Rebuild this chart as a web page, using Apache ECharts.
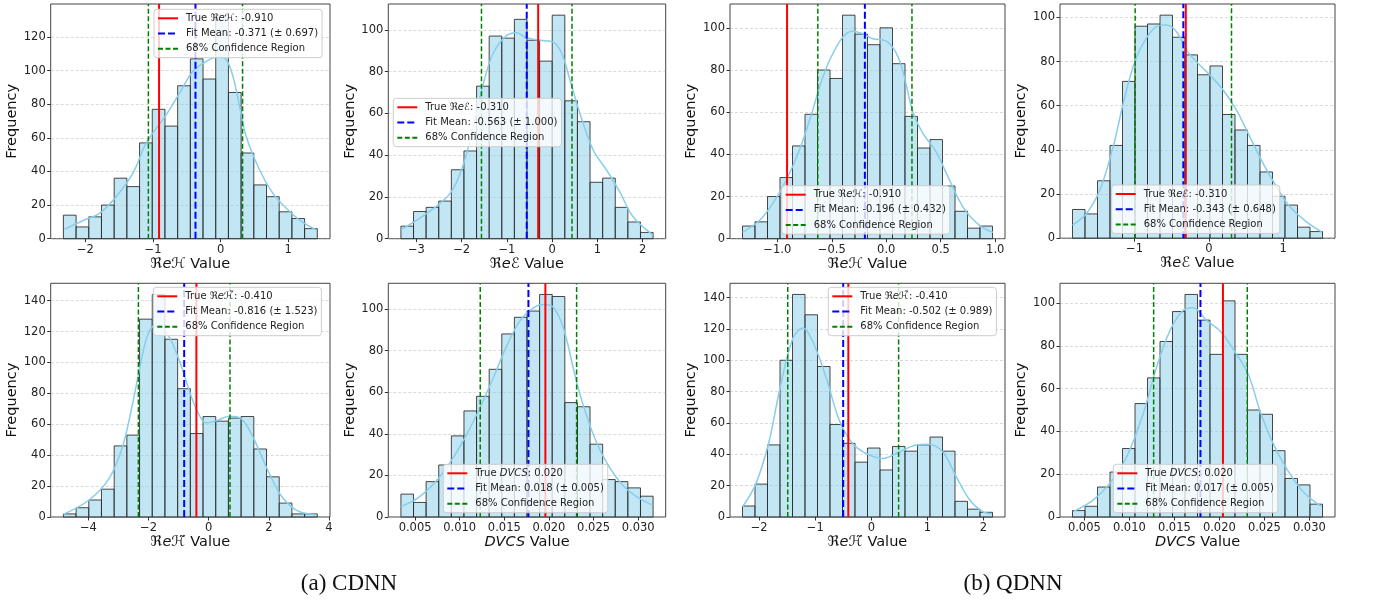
<!DOCTYPE html>
<html><head><meta charset="utf-8">
<script src="https://cdn.jsdelivr.net/npm/echarts@6/dist/echarts.min.js"></script>
<style>html,body{margin:0;padding:0;background:#fff}#c{width:1382px;height:601px}</style>
</head><body><div id="c"></div>
<script>
// ---------------- data ----------------
const p1Counts=[14,7,13,20,36,31,57,77,67,91,107,95,133,87,51,32,25,16,12,6];
const p2Counts=[6,13,15,18,33,42,73,97,96,105,95,85,107,66,56,27,29,15,8,3];
const p3Counts=[6,8,20,29,44,59,80,76,106,97,92,100,83,58,43,47,25,13,5,6];
const p4Counts=[13,11,26,42,71,96,97,101,91,83,74,78,56,49,42,30,19,15,5,3];
const p5Counts=[2,6,11,18,46,53,128,144,115,83,54,65,62,64,65,44,26,9,2,2];
const p6Counts=[11,7,17,25,39,51,58,71,88,96,99,107,106,55,53,35,18,17,14,10];
const p7Counts=[7,21,46,100,142,129,96,59,47,35,44,30,45,42,46,51,42,10,5,3];
const p8Counts=[3,5,14,21,32,53,65,82,96,104,92,76,101,76,50,48,31,18,15,6];

const binLo=[-2.326,-3.343,-1.319,-1.834,-4.833,0.00341,-2.298,0.003685];
const binHi=[1.432,2.229,0.975,1.529,3.611,0.03167,2.162,0.03146];

const p1Kde=[[-2.311,5.6],[-2.04,10.7],[-1.793,15.1],[-1.546,25],[-1.299,38.9],[-1.101,56.8],[-0.805,73.7],[-0.607,86.6],[-0.41,99.5],[-0.212,105.5],[-0.04,108.1],[0.084,106.5],[0.183,96.6],[0.281,78.7],[0.38,60.8],[0.578,40.9],[0.775,27],[0.973,18.1],[1.17,11.1],[1.417,5.2]];
const p2Kde=[[-3.343,4.2],[-2.764,12.2],[-2.251,21.8],[-1.957,36],[-1.737,54],[-1.517,74.6],[-1.298,89],[-1.004,97.3],[-0.784,98.6],[-0.565,96.2],[-0.271,95],[0.022,94.1],[0.205,89],[0.389,76.2],[0.609,60.2],[0.902,42.6],[1.195,33],[1.488,22.6],[1.782,10.6],[2.221,1.8]];
const p3Kde=[[-1.319,3],[-1.166,8.5],[-1.043,16.5],[-0.92,27.5],[-0.798,41.8],[-0.675,60.8],[-0.613,71.8],[-0.521,84.5],[-0.399,95.6],[-0.307,98.4],[-0.215,97.2],[-0.123,94.8],[0,93.7],[0.092,88],[0.16,78],[0.245,60],[0.337,50],[0.46,41],[0.552,31],[0.706,14.9],[0.859,6.2],[0.982,3]];
const p4Kde=[[-1.834,5.9],[-1.646,11.2],[-1.466,21.8],[-1.287,41.4],[-1.152,61],[-1.018,77.6],[-0.883,88.2],[-0.704,95.8],[-0.57,96.5],[-0.435,93.5],[-0.3,85.2],[-0.166,79.9],[0.013,73.9],[0.193,67.1],[0.372,58],[0.552,45.9],[0.731,33.8],[0.91,23.3],[1.09,14.2],[1.314,7.4],[1.516,2.9]];
const p5Kde=[[-4.833,1.7],[-3.978,11],[-3.311,25],[-2.867,45.4],[-2.533,73.3],[-2.311,94.8],[-2.089,114.2],[-1.867,123.2],[-1.644,123.9],[-1.311,116.3],[-0.978,101.3],[-0.756,88.4],[-0.533,75.5],[-0.311,65.8],[-0.089,60.9],[0.244,62.2],[0.689,65.2],[1.078,63.7],[1.467,51.8],[1.911,32.5],[2.356,15.3],[2.689,7.7],[3.022,3.4],[3.578,1.3]];
const p6Kde=[[0.0034,5],[0.00526,8.9],[0.00712,16.1],[0.00897,26.5],[0.01083,40.1],[0.01231,52.9],[0.0138,67.3],[0.01528,82.4],[0.01677,94.4],[0.01825,100.5],[0.01937,102.1],[0.02048,100.8],[0.02159,91.2],[0.02271,72],[0.02345,59.3],[0.02493,40.1],[0.02642,26.5],[0.02827,15.3],[0.03013,8.9],[0.03162,5.8]];
const p7Kde=[[-2.297,6.5],[-2.058,21.3],[-1.82,48.8],[-1.64,80.4],[-1.4,114],[-1.22,120.6],[-1.045,112],[-0.806,89],[-0.568,61.4],[-0.33,46.7],[-0.09,40.5],[0.206,37.3],[0.5,41.5],[0.803,46],[1.01,46.4],[1.273,41.6],[1.518,25.5],[1.756,10.8],[1.988,3.4],[2.144,2]];
const p8Kde=[[0.00376,2.5],[0.00598,7.9],[0.00783,15.7],[0.00969,28],[0.01154,48.2],[0.01302,70],[0.0145,87],[0.01598,96.6],[0.01709,97.8],[0.01857,91.9],[0.02006,87],[0.02154,78.4],[0.0232,66.8],[0.0245,49.8],[0.02598,34.3],[0.02747,22.6],[0.02931,11.8],[0.03135,4.8]];

const trueVals=[-0.910,-0.310,-0.910,-0.310,-0.410,0.0196,-0.410,0.0204];
const fitMeans=[-0.371,-0.563,-0.196,-0.343,-0.816,0.0177,-0.502,0.0179];
const fitStds=[0.697,1.000,0.432,0.648,1.523,0.0054,0.989,0.0052];

const trueLabels=['True ℜeℋ: -0.910','True ℜeℰ: -0.310','True ℜeℋ: -0.910','True ℜeℰ: -0.310','True ℜeℋ\u0303: -0.410','True DVCS: 0.020','True ℜeℋ\u0303: -0.410','True DVCS: 0.020'];
const fitLabels=['Fit Mean: -0.371 (± 0.697)','Fit Mean: -0.563 (± 1.000)','Fit Mean: -0.196 (± 0.432)','Fit Mean: -0.343 (± 0.648)','Fit Mean: -0.816 (± 1.523)','Fit Mean: 0.018 (± 0.005)','Fit Mean: -0.502 (± 0.989)','Fit Mean: 0.017 (± 0.005)'];
const ciLabel='68% Confidence Region';
const xNames=['ℜeℋ Value','ℜeℰ Value','ℜeℋ Value','ℜeℰ Value','ℜeℋ\u0303 Value','DVCS Value','ℜeℋ\u0303 Value','DVCS Value'];
const yName='Frequency';

const xTicks=[[-2,-1,0,1],[-3,-2,-1,0,1,2],[-1,-0.5,0,0.5,1],[-1,0,1],[-4,-2,0,2,4],[0.005,0.010,0.015,0.020,0.025,0.030],[-2,-1,0,1,2],[0.005,0.010,0.015,0.020,0.025,0.030]];
const xTickDecimals=[0,0,1,0,0,3,0,3];
const yTicks=[[0,20,40,60,80,100,120],[0,20,40,60,80,100],[0,20,40,60,80,100],[0,20,40,60,80,100],[0,20,40,60,80,100,120,140],[0,20,40,60,80,100],[0,20,40,60,80,100,120,140],[0,20,40,60,80,100]];
const captions=['(a) CDNN','(b) QDNN'];

// ---------------- layout ----------------
const allCounts=[p1Counts,p2Counts,p3Counts,p4Counts,p5Counts,p6Counts,p7Counts,p8Counts];
const allKde=[p1Kde,p2Kde,p3Kde,p4Kde,p5Kde,p6Kde,p7Kde,p8Kde];
const gridRects=[[50.7,4,279.3,234.7],[388.3,4,277.4,234.7],[730,4,275,234.7],[1060,4,275,234.2],
                 [50.7,283.3,279.3,233.7],[388.3,283.3,277.4,233.7],[730,283.3,275,233.7],[1060,283.3,275,233.7]];
const legendPos=[[154,9.3],[393.3,98.3],[781.7,185.7],[1111.7,185],[153.3,287.3],[443.3,464.3],[828.3,287.3],[1113.3,464.3]];

const FONT='DejaVu Sans';
function richify(s){return s.replace('ℜe','ℜ{i|e}').replace('DVCS','{i|DVCS}');}
function fmtTick(v,d){return v.toFixed(d).replace('-','\u2212');}

const grids=[],xAxes=[],yAxes=[],series=[],legends=[];
function renderBar(params,api){
  const x0=api.value(0),x1=api.value(1),h=api.value(2);
  const a=api.coord([x0,h]),b=api.coord([x1,0]);
  return {type:'rect',shape:{x:a[0],y:a[1],width:b[0]-a[0],height:b[1]-a[1]},
    style:{fill:'rgba(135,206,235,0.5)',stroke:'rgba(40,40,40,0.85)',lineWidth:1}};
}
for(let i=0;i<8;i++){
  const g=gridRects[i];
  grids.push({left:g[0],top:g[1],width:g[2],height:g[3],show:true,borderColor:'#444',borderWidth:1,backgroundColor:'transparent'});
  const lo=binLo[i],hi=binHi[i],span=hi-lo,n=allCounts[i].length,w=span/n;
  const yMax=Math.max(...allCounts[i])*1.05;
  const d=xTickDecimals[i];
  xAxes.push({type:'value',gridIndex:i,min:lo-0.05*span,max:hi+0.05*span,
    axisLine:{show:false,onZero:false},splitLine:{show:false},
    axisTick:{show:true,customValues:xTicks[i],length:3.5,lineStyle:{color:'#333'}},
    axisLabel:{customValues:xTicks[i],formatter:v=>fmtTick(v,d),fontFamily:FONT,fontSize:11.5,color:'#222',margin:5},
    name:richify(xNames[i]),nameLocation:'middle',nameGap:17,
    nameTextStyle:{fontFamily:FONT,fontSize:14.5,color:'#111',rich:{i:{fontStyle:'italic',fontFamily:FONT,fontSize:14.5,color:'#111'}}}});
  yAxes.push({type:'value',gridIndex:i,min:0,max:yMax,interval:20,
    axisLine:{show:false,onZero:false},
    splitLine:{show:true,lineStyle:{color:'rgba(170,170,170,0.55)',width:0.8,type:[3,2]}},
    axisTick:{show:true,customValues:yTicks[i],length:3.5,lineStyle:{color:'#333'}},
    axisLabel:{customValues:yTicks[i],fontFamily:FONT,fontSize:11.5,color:'#222',margin:5},
    name:yName,nameLocation:'middle',nameGap:29,
    nameTextStyle:{fontFamily:FONT,fontSize:14.5,color:'#111'}});
  const bars=allCounts[i].map((c,k)=>[lo+k*w,lo+(k+1)*w,c]);
  series.push({type:'custom',xAxisIndex:i,yAxisIndex:i,renderItem:renderBar,data:bars,encode:{x:[0,1],y:2},z:1,silent:true});
  series.push({type:'line',xAxisIndex:i,yAxisIndex:i,data:allKde[i],smooth:0.35,symbol:'none',
    lineStyle:{color:'#87ceeb',width:1.5},z:2,silent:true});
  const t=trueVals[i],m=fitMeans[i],s=fitStds[i];
  series.push({type:'line',name:trueLabels[i],xAxisIndex:i,yAxisIndex:i,data:[[t,0],[t,yMax]],symbol:'none',
    itemStyle:{color:'#ff0000'},lineStyle:{color:'#ff0000',width:2},z:3,silent:true});
  series.push({type:'line',name:fitLabels[i],xAxisIndex:i,yAxisIndex:i,data:[[m,0],[m,yMax]],symbol:'none',
    itemStyle:{color:'#0000ff'},lineStyle:{color:'#0000ff',width:2,type:[7,3]},z:3,silent:true});
  series.push({type:'line',name:ciLabel,xAxisIndex:i,yAxisIndex:i,data:[[m-s,0],[m-s,yMax]],symbol:'none',
    itemStyle:{color:'#008000'},lineStyle:{color:'#008000',width:1.5,type:[5,2.5]},z:3,silent:true});
  series.push({type:'line',name:ciLabel,xAxisIndex:i,yAxisIndex:i,data:[[m+s,0],[m+s,yMax]],symbol:'none',
    itemStyle:{color:'#008000'},lineStyle:{color:'#008000',width:1.5,type:[5,2.5]},z:3,silent:true});
  legends.push({data:[trueLabels[i],fitLabels[i],ciLabel],orient:'vertical',left:legendPos[i][0],top:legendPos[i][1],
    itemWidth:20,itemHeight:10,itemGap:3.2,padding:[3,4,3,3],selectedMode:false,
    backgroundColor:'rgba(255,255,255,0.8)',borderColor:'#cccccc',borderWidth:1,borderRadius:3,z:10,
    itemStyle:{color:'rgba(0,0,0,0)',borderColor:'rgba(0,0,0,0)',borderWidth:0,opacity:0},
    formatter:name=>richify(name),
    textStyle:{fontFamily:FONT,fontSize:10,color:'#222',lineHeight:12,padding:[0,0,0,3],
      rich:{i:{fontStyle:'italic',fontFamily:FONT,fontSize:10,color:'#222'}}}});
}

const chart=echarts.init(document.getElementById('c'),null,{renderer:'canvas'});
chart.setOption({
  animation:false,backgroundColor:'#fff',
  title:[
    {text:captions[0],left:344,top:567,textAlign:'center',textStyle:{fontFamily:'Liberation Serif',fontSize:23,fontWeight:'normal',color:'#111'}},
    {text:captions[1],left:1008,top:567,textAlign:'center',textStyle:{fontFamily:'Liberation Serif',fontSize:23,fontWeight:'normal',color:'#111'}}
  ],
  grid:grids,xAxis:xAxes,yAxis:yAxes,legend:legends,series:series
});
</script></body></html>
